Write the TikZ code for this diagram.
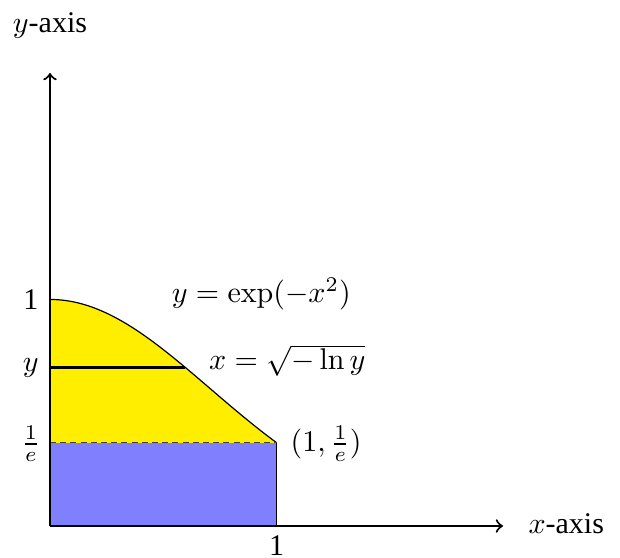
\documentclass[tikz,border=0pt]{standalone}
\usepackage[no-math]{fontspec}
\setmainfont{Liberation Serif}
\definecolor{fillyellow}{RGB}{255,238,0}
\definecolor{fillblue}{RGB}{128,128,255}
\begin{document}
\begin{tikzpicture}[x=75.5pt,y=75.5pt,
  axisline/.style={line width=0.7pt,->},
  lbl/.style={inner sep=0pt,anchor=base},
  thinline/.style={line width=0.4pt}]
\useasboundingbox (-0.2208,-0.1413) rectangle (2.5166,2.3223);
% regions
\fill[fillyellow] (0,0) -- plot[domain=0:1,samples=60] (\x,{exp(-\x*\x)}) -- (1,0) -- cycle;
\fill[fillblue] (0,0) rectangle (1,{exp(-1)});
\draw[thinline] plot[domain=0:1,samples=60] (\x,{exp(-\x*\x)});
\draw[thinline] (1,0) -- (1,{exp(-1)});
\draw[thinline,black!75,dash pattern=on 2pt off 1.4pt] (0,{exp(-1)}) -- (1,{exp(-1)});
% coordinates
\coordinate (O) at (0,0);
\coordinate (X) at (2,0);
\coordinate (Y) at (0,2);
\coordinate (Ya) at (0,0.7);
\coordinate (Yb) at ({sqrt(-ln(0.7))},0.7);
\draw[line width=0.7pt] (Ya) -- (Yb);
\draw[axisline] (O) -- (X);
\draw[axisline] (O) -- (Y);
% labels
\node[lbl] (ylab) at (0,2.177) {$y$-axis};
\node[lbl,anchor=base west] (xlab) at (2.11,-0.031) {$x$-axis};
\node[lbl] (one1) at (1,-0.132) {1};
\node[lbl] (one2) at (-0.085,0.954) {1};
\node[lbl] (yy) at (-0.085,0.68) {$y$};
\node[lbl] (inve) at (-0.085,0.329) {$\frac{1}{e}$};
\node[lbl,anchor=base west] (curve) at (0.535,0.987) {$y=\exp(-x^2)$};
\node[lbl,anchor=base west] (inv) at (0.70,0.689) {$x=\sqrt{-\ln y}$};
\node[lbl,anchor=base west] (pt) at (1.06,0.329) {$(1,\frac{1}{e})$};
\end{tikzpicture}
\end{document}
